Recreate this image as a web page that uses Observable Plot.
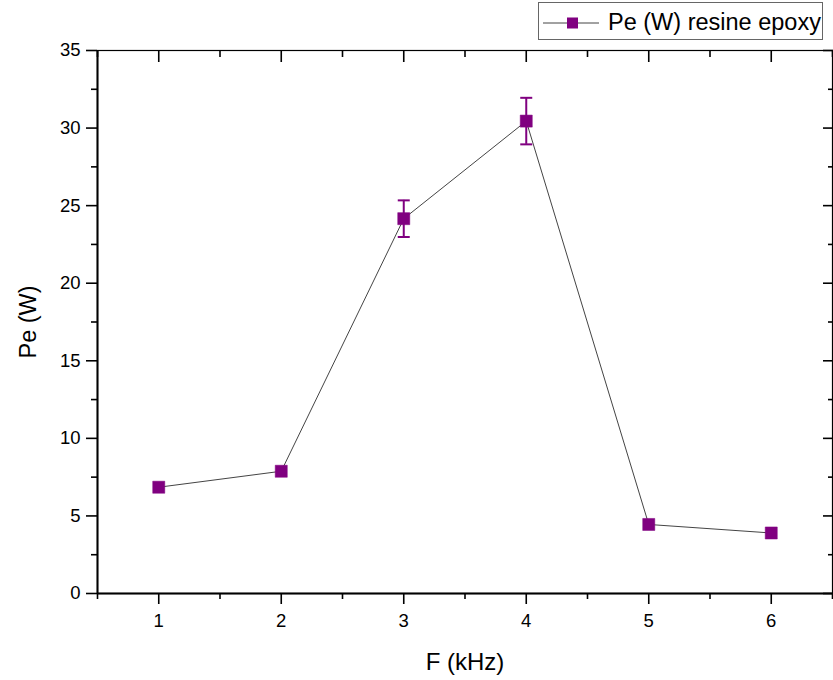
<!DOCTYPE html>
<html><head><meta charset="utf-8">
<script src="https://cdn.jsdelivr.net/npm/d3@7"></script>
<script src="https://cdn.jsdelivr.net/npm/@observablehq/plot@0.6"></script>
<style>
body{margin:0;background:#fff;font-family:"Liberation Sans",Arial,sans-serif;}
#wrap{position:relative;width:833px;height:680px;}
#legend{position:absolute;left:538px;top:2px;width:283px;height:36px;border:1px solid #666;background:#fff;}
#legend svg{position:absolute;left:0;top:0;}
#legend span{position:absolute;left:69px;top:4px;font-size:23.5px;line-height:30px;color:#000;white-space:nowrap;}
</style></head><body>
<div id="wrap"><div id="chart"></div><div id="legend"></div></div>
<script>
// Data
const F = [1, 2, 3, 4, 5, 6];
const Pe = [6.85, 7.88, 24.16, 30.45, 4.45, 3.9];
const PeErr = [0, 0, 1.18, 1.5, 0, 0];
const xDomain = [0.5, 6.5];
const yDomain = [0, 35];
const xMajor = [1, 2, 3, 4, 5, 6];
const xMinor = [0.5, 1.5, 2.5, 3.5, 4.5, 5.5, 6.5];
const yMajor = [0, 5, 10, 15, 20, 25, 30, 35];
const yMinor = [2.5, 7.5, 12.5, 17.5, 22.5, 27.5, 32.5];
const seriesName = "Pe (W) resine epoxy";
const xTitle = "F (kHz)";
const yTitle = "Pe (W)";

const color = "#800080";
const lineColor = "#444";
const font = "'Liberation Sans', Arial, sans-serif";

const data = F.map((f, i) => ({f, pe: Pe[i], err: PeErr[i]}));
const errData = data.filter(d => d.err > 0);
const cap = {draw(ctx) { ctx.moveTo(-6, 0); ctx.lineTo(6, 0); }};
const blank = () => "";
const fmt = d => String(d);

const chart = Plot.plot({
  width: 833, height: 680,
  marginLeft: 97, marginRight: 1, marginTop: 50, marginBottom: 87,
  x: {domain: xDomain, label: null},
  y: {domain: yDomain, label: null},
  style: {fontFamily: font, fontSize: "18px", background: "white", color: "black"},
  marks: [
    Plot.frame({stroke: "black", strokeWidth: 1.2}),
    Plot.ruleX([xDomain[0]], {stroke: "black", strokeWidth: 2}),
    Plot.ruleY([yDomain[0]], {stroke: "black", strokeWidth: 2}),
    // bottom axis
    Plot.axisX({ticks: xMajor, tickSize: 11, tickPadding: 9, tickFormat: fmt, fontSize: 18.5, label: null, strokeWidth: 1.6}),
    Plot.axisX({ticks: xMinor, tickSize: 6, tickFormat: blank, label: null, strokeWidth: 1.6}),
    // top axis (inward ticks)
    Plot.axisX({anchor: "top", ticks: xMajor, tickSize: 11, dy: 11, tickFormat: blank, label: null, strokeWidth: 1.6}),
    Plot.axisX({anchor: "top", ticks: xMinor, tickSize: 6, dy: 6, tickFormat: blank, label: null, strokeWidth: 1.6}),
    // left axis
    Plot.axisY({ticks: yMajor, tickSize: 11, tickPadding: 6, tickFormat: fmt, fontSize: 18.5, label: null, strokeWidth: 1.6}),
    Plot.axisY({ticks: yMinor, tickSize: 6, tickFormat: blank, label: null, strokeWidth: 1.6}),
    // right axis (inward ticks)
    Plot.axisY({anchor: "right", ticks: yMajor, tickSize: 10, dx: -10, tickFormat: blank, label: null, strokeWidth: 1.6}),
    Plot.axisY({anchor: "right", ticks: yMinor, tickSize: 5, dx: -5, tickFormat: blank, label: null, strokeWidth: 1.6}),
    // axis titles
    Plot.text([xTitle], {frameAnchor: "bottom", textAnchor: "middle", lineAnchor: "middle", dy: 69, fontSize: 24}),
    Plot.text([yTitle], {frameAnchor: "left", textAnchor: "middle", lineAnchor: "middle", rotate: -90, dx: -69, fontSize: 23.5}),
    // data
    Plot.line(data, {x: "f", y: "pe", stroke: lineColor, strokeWidth: 1}),
    Plot.ruleX(errData, {x: "f", y1: d => d.pe - d.err, y2: d => d.pe + d.err, stroke: color, strokeWidth: 2}),
    Plot.dot(errData, {x: "f", y: d => d.pe + d.err, symbol: cap, stroke: color, strokeWidth: 2, fill: "none"}),
    Plot.dot(errData, {x: "f", y: d => d.pe - d.err, symbol: cap, stroke: color, strokeWidth: 2, fill: "none"}),
    Plot.dot(data, {x: "f", y: "pe", symbol: "square", r: 6.8, fill: color, stroke: color, strokeWidth: 0.5})
  ]
});
document.getElementById("chart").appendChild(chart);

// legend
const leg = document.getElementById("legend");
const svgNS = "http://www.w3.org/2000/svg";
const ls = document.createElementNS(svgNS, "svg");
ls.setAttribute("width", "66"); ls.setAttribute("height", "36");
const ln = document.createElementNS(svgNS, "line");
ln.setAttribute("x1", "4"); ln.setAttribute("x2", "60");
ln.setAttribute("y1", "20"); ln.setAttribute("y2", "20");
ln.setAttribute("stroke", lineColor); ln.setAttribute("stroke-width", "1");
const sq = document.createElementNS(svgNS, "rect");
sq.setAttribute("x", "28"); sq.setAttribute("y", "14.5");
sq.setAttribute("width", "11"); sq.setAttribute("height", "11");
sq.setAttribute("fill", color);
ls.appendChild(ln); ls.appendChild(sq);
leg.appendChild(ls);
const sp = document.createElement("span");
sp.textContent = seriesName;
leg.appendChild(sp);
</script>
</body></html>
